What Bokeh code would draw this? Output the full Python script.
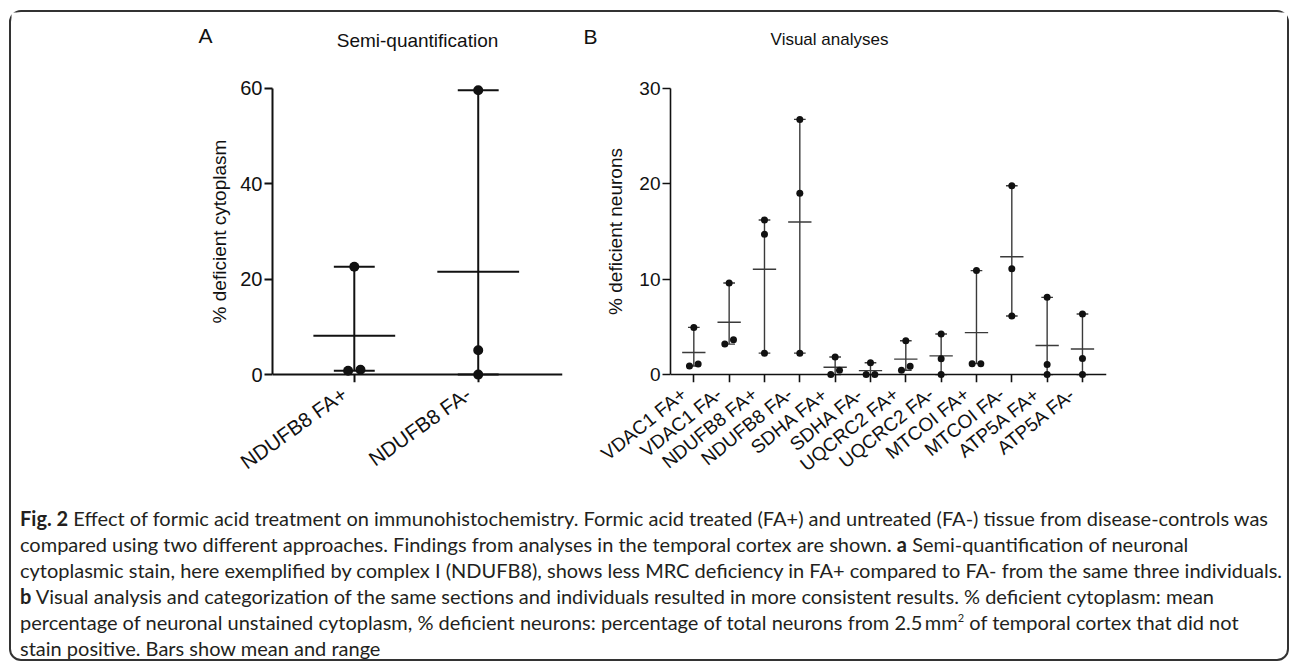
import numpy as np
from bokeh.plotting import figure
from bokeh.models import Range1d, FixedTicker, LinearAxis, Div
from bokeh.layouts import column, row
from bokeh.embed import file_html
from bokeh.resources import INLINE
from bokeh.core.properties import value

# ---------------- data ----------------
a_categories = ["NDUFB8 FA+", "NDUFB8 FA-"]
a_values = [[22.6, 0.8, 1.0], [59.6, 5.1, 0.0]]
a_yticks = [0, 20, 40, 60]
a_ylabel = "% deficient cytoplasm"
a_title = "Semi-quantification"

b_categories = ["VDAC1 FA+", "VDAC1 FA-", "NDUFB8 FA+", "NDUFB8 FA-", "SDHA FA+", "SDHA FA-",
                "UQCRC2 FA+", "UQCRC2 FA-", "MTCOI FA+", "MTCOI FA-", "ATP5A FA+", "ATP5A FA-"]
b_values = [[4.95, 0.9, 1.1], [9.6, 3.2, 3.65], [16.2, 14.7, 2.25], [26.75, 19.0, 2.25],
            [1.85, 0.0, 0.45], [1.25, 0.0, 0.0], [3.55, 0.45, 0.87], [4.25, 1.65, 0.0],
            [10.9, 1.15, 1.15], [19.8, 11.1, 6.15], [8.1, 1.07, 0.0], [6.35, 1.7, 0.0]]
b_yticks = [0, 10, 20, 30]
b_ylabel = "% deficient neurons"
b_title = "Visual analyses"

FONT = "Liberation Sans"
INK = "#111111"


def style_ticks(ax, axw):
    ax.axis_line_width = axw
    ax.axis_line_color = INK
    ax.major_tick_line_width = axw
    ax.major_tick_line_color = INK
    ax.major_tick_in = 0
    ax.major_tick_out = 8
    ax.minor_tick_out = 0
    ax.minor_tick_in = 0


def make_panel(cats, vals, yticks, ylabel, W, H, bl, br, bt, bb, dot, lw, lcol,
               axw, tick_fs, lab_fs, lab_angle, lab_shift, ylab_fs, ylab_standoff):
    n = len(cats)
    fw = W - bl - br
    fh = H - bt - bb
    pad = 8  # equals the tick length, so the label axis sits where ticks end
    ymax = yticks[-1]
    ppu_y = (fh - 2 * pad) / ymax
    ypad = pad / ppu_y
    lo, hi = 0.66, 0.68
    ppu_x = fw / (n - 1 + lo + hi)
    x0, x1 = 1 - lo, n + hi
    p = figure(width=W, height=H, x_range=Range1d(x0, x1), y_range=Range1d(-ypad, ymax + ypad),
               output_backend="svg", toolbar_location=None, title=None,
               x_axis_location=None, y_axis_location=None,
               min_border_left=bl, min_border_right=br, min_border_top=bt, min_border_bottom=bb)
    p.outline_line_color = None
    p.xgrid.visible = False
    p.ygrid.visible = False

    yax = LinearAxis(ticker=FixedTicker(ticks=yticks), bounds=(0, ymax), axis_label=ylabel)
    style_ticks(yax, axw)
    yax.major_label_standoff = 2
    yax.major_label_text_font = FONT
    yax.major_label_text_font_size = f"{tick_fs}px"
    yax.major_label_text_color = INK
    yax.axis_label_text_font = FONT
    yax.axis_label_text_font_size = f"{ylab_fs}px"
    yax.axis_label_text_font_style = "normal"
    yax.axis_label_text_color = INK
    yax.axis_label_standoff = ylab_standoff
    p.add_layout(yax, "left")

    # axis line and ticks at y = 0
    xax = LinearAxis(ticker=FixedTicker(ticks=list(range(1, n + 1))), fixed_location=0,
                     bounds=(x0, x1), major_label_overrides={i + 1: "" for i in range(n)})
    style_ticks(xax, axw)
    xax.major_label_text_alpha = 0
    p.add_layout(xax, "below")

    # category labels, hanging from the ends of the ticks
    shift = lab_shift / ppu_x
    lab_ticks = [i + 1 - shift for i in range(n)]
    lab = LinearAxis(ticker=FixedTicker(ticks=lab_ticks),
                     major_label_overrides={t: c for t, c in zip(lab_ticks, cats)})
    lab.axis_line_color = None
    lab.major_tick_line_color = None
    lab.major_tick_in = 0
    lab.major_tick_out = 0
    lab.minor_tick_in = 0
    lab.minor_tick_out = 0
    lab.major_label_standoff = 9
    lab.major_label_orientation = lab_angle
    lab.major_label_text_font = FONT
    lab.major_label_text_font_size = f"{lab_fs}px"
    lab.major_label_text_color = INK
    p.add_layout(lab, "below")

    # range, caps, mean and points
    off = 0.62 * dot / ppu_x
    px, py = [], []
    vx0, vy0, vy1 = [], [], []
    cx0, cx1, cy = [], [], []
    mx0, mx1, my = [], [], []
    for i, v in enumerate(vals):
        c = i + 1
        s = sorted(v)
        vx0.append(c); vy0.append(s[0]); vy1.append(s[-1])
        for e in (s[0], s[-1]):
            cx0.append(c - 0.165); cx1.append(c + 0.165); cy.append(e)
        m = float(np.mean(v))
        mx0.append(c - 0.33); mx1.append(c + 0.33); my.append(m)
        j = 0
        while j < len(s):
            if j + 1 < len(s) and (s[j + 1] - s[j]) * ppu_y < dot:
                px += [c - off, c + off]; py += [s[j], s[j + 1]]
                j += 2
            else:
                px.append(c); py.append(s[j])
                j += 1
    p.segment(x0=vx0, y0=vy0, x1=vx0, y1=vy1, line_color=lcol, line_width=lw)
    p.segment(x0=cx0, y0=cy, x1=cx1, y1=cy, line_color=lcol, line_width=lw)
    p.segment(x0=mx0, y0=my, x1=mx1, y1=my, line_color=lcol, line_width=lw)
    p.scatter(px, py, size=dot, marker="circle", fill_color=INK, line_color=None)
    return p


# row spans page y 62..504; plot frames: A 76..382, B 80..386
pa = make_panel(a_categories, a_values, a_yticks, a_ylabel, W=579, H=442, bl=261, br=28, bt=14, bb=122,
                dot=10, lw=2, lcol=INK, axw=2, tick_fs=20, lab_fs=20.5, lab_angle=0.62, lab_shift=10,
                ylab_fs=19, ylab_standoff=7)
pb = make_panel(b_categories, b_values, b_yticks, b_ylabel, W=697, H=442, bl=80, br=181, bt=18, bb=118,
                dot=7, lw=1.4, lcol="#3a3a3a", axw=1.6, tick_fs=19, lab_fs=19, lab_angle=0.68, lab_shift=10,
                ylab_fs=19, ylab_standoff=10)

# header with panel letters and titles (data units = page pixels)
hdr = figure(width=1276, height=50, x_range=Range1d(11, 1287), y_range=Range1d(62, 12),
             output_backend="svg", toolbar_location=None, title=None,
             x_axis_location=None, y_axis_location=None, min_border=0)
hdr.outline_line_color = None
hdr.xgrid.visible = False
hdr.ygrid.visible = False
hdr.text(x=[205, 590], y=[35, 36], text=["A", "B"], text_font=value(FONT), text_font_size="21px",
         text_align="center", text_baseline="middle", text_color=INK)
hdr.text(x=[417], y=[40], text=[a_title], text_font=value(FONT), text_font_size="19px",
         text_align="center", text_baseline="middle", text_color=INK)
hdr.text(x=[829], y=[39], text=[b_title], text_font=value(FONT), text_font_size="17px",
         text_align="center", text_baseline="middle", text_color=INK)

caption_html = (
    '<div style="padding:1px 0 0 9px; font-family:Lato; font-size:20px; line-height:26px; '
    'color:#231f20; white-space:nowrap">'
    '<b>Fig. 2</b> Effect of formic acid treatment on immunohistochemistry. Formic acid treated (FA+) and '
    'untreated (FA-) tissue from disease-controls was<br>'
    'compared using two different approaches. Findings from analyses in the temporal cortex are shown. '
    '<b>a</b> Semi-quantification of neuronal<br>'
    'cytoplasmic stain, here exemplified by complex I (NDUFB8), shows less MRC deficiency in FA+ compared '
    'to FA- from the same three individuals.<br>'
    '<b>b</b> Visual analysis and categorization of the same sections and individuals resulted in more '
    'consistent results. % deficient cytoplasm: mean<br>'
    'percentage of neuronal unstained cytoplasm, % deficient neurons: percentage of total neurons from '
    '2.5&thinsp;mm<sup style="font-size:11px;line-height:0">2</sup> of temporal cortex that did not<br>'
    'stain positive. Bars show mean and range</div>'
)
cap = Div(text=caption_html, width=1276, height=155, margin=0)

layout = column(hdr, row(pa, pb), cap, margin=(10, 0, 0, 9),
                styles={"border": "2px solid #333333", "border-radius": "12px"})

open("out.html", "w").write(file_html(layout, INLINE))
